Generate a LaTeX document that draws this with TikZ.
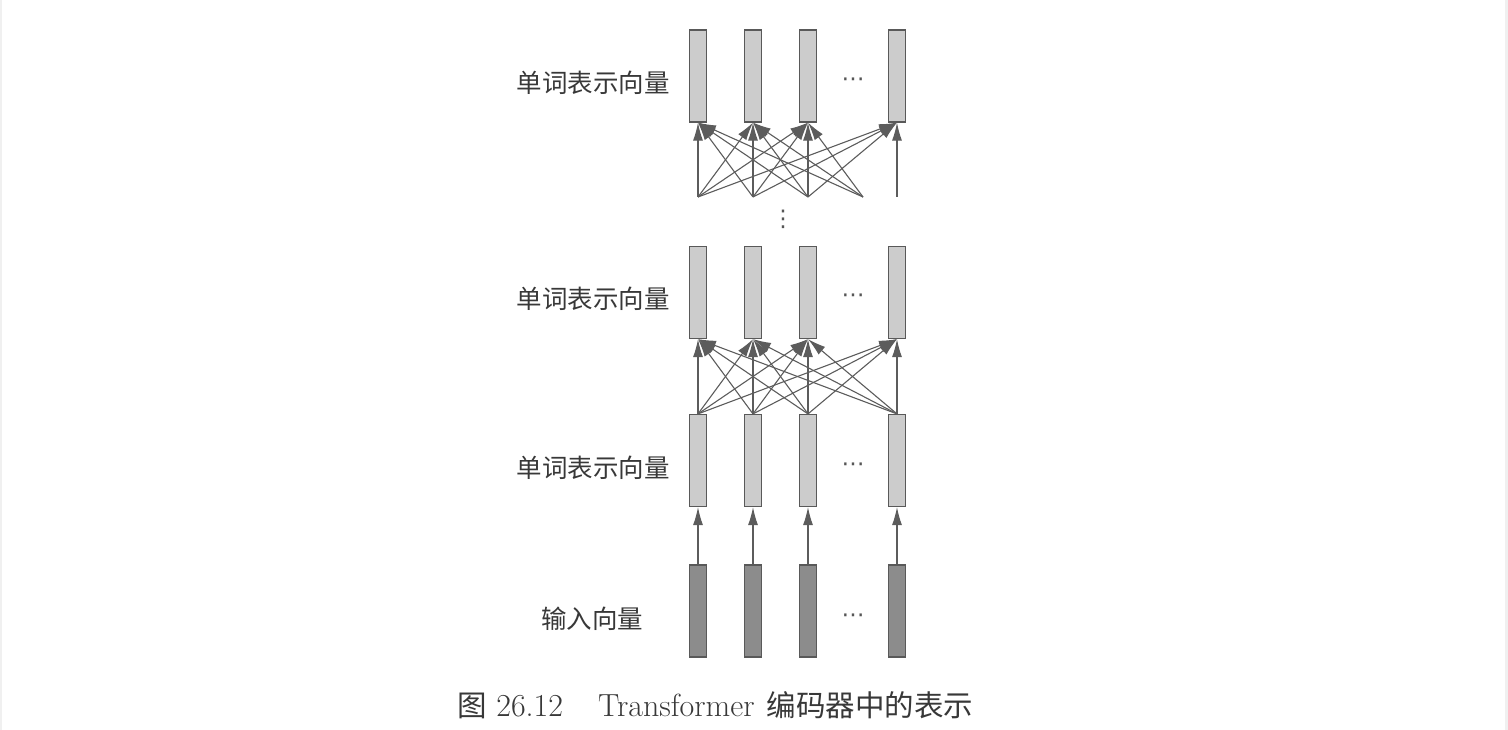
\documentclass[tikz,border=0pt]{standalone}
\usepackage{fontspec}
\newfontfamily\cjk{Noto Sans CJK SC}
\newfontfamily\symf{DejaVu Sans}
\usetikzlibrary{arrows.meta}
\definecolor{barline}{gray}{0.35}
\definecolor{barfill}{gray}{0.80}
\definecolor{infill}{gray}{0.55}
\definecolor{linkgray}{gray}{0.36}
\definecolor{textgray}{gray}{0.22}

\begin{document}
\begin{tikzpicture}[x=1pt,y=-1pt,
    vec/.style={draw=barline,line width=1.2pt,fill=barfill,minimum width=17pt,minimum height=92pt,inner sep=0pt},
    invec/.style={vec,fill=infill},
    link/.style={draw=linkgray,line width=1.1pt,-{Latex[length=18pt,width=10pt]}},
    dots/.style={text=textgray!85,font=\symf\fontsize{23}{24}\selectfont,inner sep=0pt},
    lab/.style={text=textgray,font=\cjk\fontsize{25.5}{28}\selectfont,inner sep=0pt}]
            \useasboundingbox (0,0) rectangle (1508,730);
            \fill[gray!12] (0,0) rectangle (2,730);
            \fill[gray!12] (1505,0) rectangle (1508,730);
            % four layers of word vectors
            \foreach \i/\x in {1/698,2/753,3/808,4/897}{
                \node[vec] (t\i) at (\x,76) {};
                \node[vec] (u\i) at (\x,292.5) {};
                \node[vec] (m\i) at (\x,460.5) {};
                \node[invec] (i\i) at (\x,611) {};
            }
            \foreach \y in {82,298,467,618}
                \node[dots] at (853,\y) {⋯};
            \node[dots] (vd) at (783,219) {⋮};
            % labels
            \node[lab,anchor=east] (lt) at (670,83) {单词表示向量};
            \node[lab,anchor=east] (lu) at (670,299) {单词表示向量};
            \node[lab,anchor=east] (lm) at (670,468) {单词表示向量};
            \node[lab] (li) at (592,619) {输入向量};
            % connections
            \foreach \i/\x in {1/698,2/753,3/808,4/863,5/897}
                \coordinate (s\i) at (\x,197);
            \foreach \s in {1,2,3}
                \foreach \t in {1,...,4}
                    \draw[link] (s\s) -- (t\t.south);
            \foreach \t in {1,2,3}
                \draw[link] (s4) -- (t\t.south);
            \draw[link] (s5) -- (t4.south);
            \foreach \s in {1,...,4}
                \foreach \t in {1,...,4}
                    \draw[link] (m\s.north) -- (u\t.south);
            \foreach \i in {1,...,4}
                \draw[link] (i\i.north) -- (m\i.south);
            % caption
            \node[text=textgray,font=\fontsize{32}{36}\selectfont,anchor=west,inner sep=0pt] (cap) at (457,705)
                {{\cjk\fontsize{29.5}{32}\selectfont 图} 26.12\hspace{35pt}Transformer\hspace{12pt}{\cjk\fontsize{29.5}{32}\selectfont 编码器中的表示}};
        \end{tikzpicture}
\end{document}
